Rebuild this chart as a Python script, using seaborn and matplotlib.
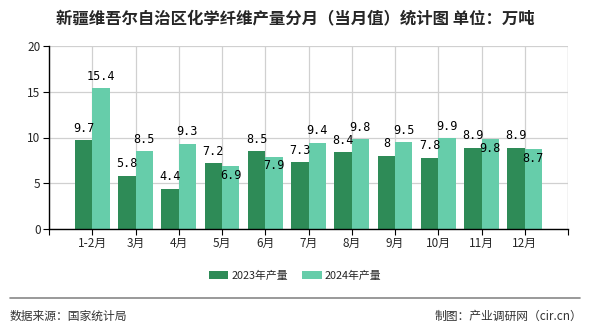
import matplotlib
matplotlib.use("Agg")
import matplotlib.pyplot as plt
import seaborn as sns
import pandas as pd
import numpy as np
from matplotlib.patches import Patch

months = ["1-2月", "3月", "4月", "5月", "6月", "7月", "8月", "9月", "10月", "11月", "12月"]
prod_2023 = [9.7, 5.8, 4.4, 7.2, 8.5, 7.3, 8.4, 8, 7.8, 8.9, 8.9]
prod_2024 = [15.4, 8.5, 9.3, 6.9, 7.9, 9.4, 9.8, 9.5, 9.9, 9.8, 8.7]
series_names = ["2023年产量", "2024年产量"]
colors = ["#2E8B57", "#66CDAA"]

sns.set_theme(style="white")
plt.rcParams['font.family'] = ['Noto Sans CJK SC', 'DejaVu Sans']

df = pd.DataFrame({
    "month": months * 2,
    "value": prod_2023 + prod_2024,
    "series": [series_names[0]] * len(months) + [series_names[1]] * len(months),
})

fig = plt.figure(figsize=(5.9, 3.3), dpi=100)
ax = fig.add_axes([49/590, 1 - 229/330, 519/590, 183/330])

# pad categories with empty slots on both sides so ticks sit at 1..11 on a 0..12 axis
order = [" "] + months + ["  "]
sns.barplot(data=df, x="month", y="value", hue="series", order=order,
            hue_order=series_names, palette=colors, width=0.8, saturation=1,
            ax=ax, legend=False, errorbar=None, linewidth=0, edgecolor="none")

pos = np.arange(len(order))
ax.set_xlim(0, len(order) - 1)
ax.set_ylim(0, 20)
ax.set_yticks([0, 5, 10, 15, 20])
ax.set_xticks(pos)
ax.set_xticklabels([""] + months + [""], fontsize=8.5)
ax.tick_params(axis="y", labelsize=8.5, length=4, width=0.8, color="black", direction="out", left=True, pad=2)
ax.tick_params(axis="x", length=4, width=0.8, color="black", direction="out", bottom=True, pad=2)
ax.set_xlabel("")
ax.set_ylabel("")
ax.grid(True, color="#d0d0d0", linewidth=0.9)
ax.set_axisbelow(True)
for s in ["top", "right"]:
    ax.spines[s].set_visible(False)
for s in ["left", "bottom"]:
    ax.spines[s].set_color("black")
    ax.spines[s].set_linewidth(1.0)
ax.axvline(len(order) - 1, color="#d0d0d0", linewidth=0.9, zorder=0)

# value labels
cont_dark, cont_light = ax.containers[0], ax.containers[1]
label_font = dict(fontsize=8.5, family=["DejaVu Sans Mono"], color="black")
bars_dark = [b for b in cont_dark if b.get_height() > 0]
bars_light = [b for b in cont_light if b.get_height() > 0]
for i, (bd, bl) in enumerate(zip(bars_dark, bars_light)):
    vd, vl = prod_2023[i], prod_2024[i]
    ax.annotate(f"{vd:g}", (bd.get_x() + bd.get_width() / 2, bd.get_height()),
                xytext=(0, 4), textcoords="offset points", ha="center", va="bottom", **label_font)
    if vl < vd + 1.0:
        ax.annotate(f"{vl:g}", (bl.get_x() + bl.get_width() / 2, bl.get_height()),
                    xytext=(0, -2), textcoords="offset points", ha="center", va="top", **label_font)
    else:
        ax.annotate(f"{vl:g}", (bl.get_x() + bl.get_width() / 2, bl.get_height()),
                    xytext=(0, 4), textcoords="offset points", ha="center", va="bottom", **label_font)

fig.text(0.5, 1 - 18/330, "新疆维吾尔自治区化学纤维产量分月（当月值）统计图 单位：万吨",
         ha="center", va="center", fontsize=11.8, fontweight="bold")

handles = [Patch(facecolor=c, edgecolor="none") for c in colors]
fig.legend(handles, series_names, loc="center", bbox_to_anchor=(0.5, 1 - 276/330),
           ncol=2, frameon=False, fontsize=7.8, handlelength=1.8, handleheight=0.8,
           columnspacing=1.3, handletextpad=0.3)

fig.add_artist(plt.Line2D([10/590, 580/590], [1 - 298/330, 1 - 298/330], color="#888888", linewidth=1.2))
fig.text(10/590, 1 - 316/330, "数据来源：国家统计局", ha="left", va="center", fontsize=8.5, color="#333333")
fig.text(582/590, 1 - 316/330, "制图：产业调研网（cir.cn）", ha="right", va="center", fontsize=8.5, color="#333333")

fig.savefig("out.png", dpi=100)
